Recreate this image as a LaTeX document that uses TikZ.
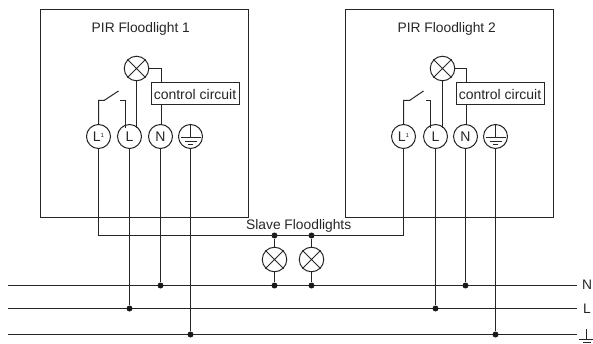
\documentclass[tikz,border=0pt]{standalone}
\usepackage{fontspec}
\setmainfont{Liberation Sans}
\usetikzlibrary{calc}
\tikzset{
  wire/.style={line width=1pt,black!85},
  frame/.style={draw=black!85,line width=1pt,fill=none,minimum width=208pt,minimum height=208pt,anchor=north west,inner sep=0pt},
  term/.style={circle,draw=black!85,line width=1pt,minimum size=24pt,inner sep=0pt,font=\fontsize{14}{14}\selectfont,text=black!85},
  lamp/.style={circle,draw=black!85,line width=1pt,minimum size=24.5pt,inner sep=0pt},
  ctrl/.style={rectangle,draw=black!85,line width=1pt,fill=white,inner sep=0pt,minimum width=88pt,minimum height=22pt,anchor=north west,font=\fontsize{14}{14}\selectfont,text=black!85},
  txt/.style={inner sep=0pt,font=\fontsize{13.8}{14}\selectfont,text=black!85},
  dot/.style={circle,fill=black!90,inner sep=0pt,minimum size=6pt},
}
\newcommand{\crossme}[1]{\draw[wire] (#1.45)--(#1.225) (#1.135)--(#1.315);}
\newcommand{\earthme}[1]{\draw[wire] (#1.north)--($(#1.center)+(0,1)$) ($(#1.center)+(-10,1)$)--($(#1.center)+(10,1)$) ($(#1.center)+(-6,5)$)--($(#1.center)+(6,5)$) ($(#1.center)+(-2.5,8)$)--($(#1.center)+(2.5,8)$);}
\newcommand{\lone}{L\raisebox{3.5pt}{\fontsize{6}{6}\selectfont 1}}
\begin{document}
\begin{tikzpicture}[x=1pt,y=-1pt]
\useasboundingbox (0,0) rectangle (593,344);
% floodlight boxes
\node[frame] (b1) at (39.5,9.5) {};
\node[frame] (b2) at (344.5,9.5) {};
\node[txt] (t1) at (140.8,28.5) {PIR Floodlight 1};
\node[txt] (t2) at (446.7,28.5) {PIR Floodlight 2};
% terminals 1
\node[term] (a1) at (98.5,136.5) {\lone};
\node[term] (a2) at (129.5,136.5) {L};
\node[term] (a3) at (160.5,136.5) {N};
\node[term] (a4) at (190.5,136.5) {};
\node[lamp] (la) at (136.5,68.5) {};
\node[ctrl] (ca) at (150.5,82.5) {control circuit};
% terminals 2
\node[term] (c1) at (403.5,136.5) {\lone};
\node[term] (c2) at (435.5,136.5) {L};
\node[term] (c3) at (465.5,136.5) {N};
\node[term] (c4) at (495.5,136.5) {};
\node[lamp] (lc) at (442.5,68.5) {};
\node[ctrl] (cc) at (455.5,82.5) {control circuit};
\crossme{la}\crossme{lc}
\earthme{a4}\earthme{c4}
% inner wiring 1
\coordinate (sa1) at (a1.north |- 0,100.5);
\coordinate (sa2) at (104,100.5);
\coordinate (sa3) at (118.5,91);
\coordinate (sa4) at (120,100.5);
\coordinate (sa5) at (125.5,100.5);
\draw[wire] (a1.north)--(sa1)--(sa2)--(sa3);
\draw[wire] (sa4)--(sa5)--(sa5 |- a2.north west);
\draw[wire] (la.south)--(la.south |- a2.north east);
\draw[wire] (la.east)-|(ca.north -| 161.5,0);
\draw[wire] (ca.south -| 161.5,0)--(161.5,125);
% inner wiring 2
\coordinate (sc1) at (c1.north |- 0,100.5);
\coordinate (sc2) at (409.5,100.5);
\coordinate (sc3) at (423.5,91);
\coordinate (sc4) at (425.5,100.5);
\coordinate (sc5) at (430.5,100.5);
\draw[wire] (c1.north)--(sc1)--(sc2)--(sc3);
\draw[wire] (sc4)--(sc5)--(sc5 |- c2.north west);
\draw[wire] (lc.south)--(lc.south |- c2.north east);
\draw[wire] (lc.east)-|(cc.north -| 466.5,0);
\draw[wire] (cc.south -| 466.5,0)--(466.5,125);
% buses
\coordinate (nl) at (8,285.5); \coordinate (nr) at (577,285.5);
\coordinate (ll) at (8,308.5); \coordinate (lr) at (577,308.5);
\coordinate (el) at (8,334.5); \coordinate (er) at (577,334.5);
\draw[wire] (nl)--(nr) (ll)--(lr) (el)--(er);
\node[txt] (ln) at (587,285) {N};
\node[txt] (ll2) at (587,309) {L};
\coordinate (g) at (586.5,329);
\draw[wire] (g)--++(0,10.5) ++(-8,0)--++(16,0) ++(-12,3)--++(8,0);
% slave bus
\coordinate (sb) at (98.5,235.5);
\node[dot] (d1) at (274.5,235.5) {};
\node[dot] (d2) at (311.5,235.5) {};
\node[txt] (t3) at (298.7,226.3) {Slave Floodlights};
\draw[wire] (a1.south)--(sb)--(c1.south |- sb)--(c1.south);
\node[lamp] (s1) at (274.5,259.5) {};
\node[lamp] (s2) at (311.5,259.5) {};
\crossme{s1}\crossme{s2}
\node[dot] (d3) at (274.5,285.5) {};
\node[dot] (d4) at (311.5,285.5) {};
\draw[wire] (d1)--(s1) (s1)--(d3) (d2)--(s2) (s2)--(d4);
% drops
\node[dot] (e1) at (a2.south |- ll) {};
\node[dot] (e2) at (a3.south |- nl) {};
\node[dot] (e3) at (a4.south |- el) {};
\node[dot] (e4) at (c2.south |- ll) {};
\node[dot] (e5) at (c3.south |- nl) {};
\node[dot] (e6) at (c4.south |- el) {};
\draw[wire] (a2)--(e1) (a3)--(e2) (a4)--(e3) (c2)--(e4) (c3)--(e5) (c4)--(e6);
\end{tikzpicture}
\end{document}
